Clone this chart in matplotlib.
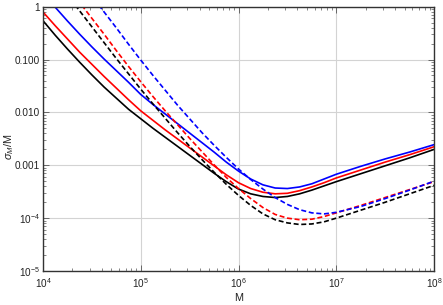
import matplotlib
matplotlib.use("Agg")
import matplotlib.pyplot as plt
import numpy as np
from matplotlib.ticker import FixedLocator, LogLocator, NullFormatter

# log10(M) sample grid
log_mass = [4.0, 4.125, 4.25, 4.375, 4.5, 4.625, 4.75, 4.875, 5.0, 5.125, 5.25,
            5.375, 5.5, 5.625, 5.75, 5.875, 6.0, 6.125, 6.25, 6.375, 6.5, 6.625,
            6.75, 6.875, 7.0, 7.25, 7.5, 7.75, 8.0]

# log10(sigma_M / M)
black_solid = [-0.265, -0.54, -0.80, -1.05, -1.29, -1.52, -1.73, -1.94, -2.12, -2.30,
               -2.47, -2.64, -2.81, -2.98, -3.15, -3.31, -3.45, -3.54, -3.59, -3.61,
               -3.59, -3.54, -3.47, -3.39, -3.31, -3.16, -3.01, -2.86, -2.70]
red_solid = [-0.10, -0.36, -0.61, -0.86, -1.09, -1.32, -1.54, -1.76, -1.97, -2.15,
             -2.33, -2.50, -2.67, -2.84, -3.01, -3.18, -3.33, -3.44, -3.51, -3.54,
             -3.53, -3.48, -3.41, -3.33, -3.24, -3.09, -2.94, -2.80, -2.65]
blue_solid = [0.25, -0.01, -0.27, -0.52, -0.76, -0.99, -1.21, -1.43, -1.66, -1.85,
              -2.03, -2.21, -2.39, -2.57, -2.75, -2.94, -3.11, -3.26, -3.37, -3.43,
              -3.44, -3.41, -3.35, -3.26, -3.17, -3.02, -2.88, -2.75, -2.61]
black_dashed = [0.82, 0.52, 0.22, -0.08, -0.38, -0.68, -0.98, -1.27, -1.56, -1.84,
                -2.11, -2.38, -2.64, -2.89, -3.13, -3.36, -3.57, -3.76, -3.92, -4.03,
                -4.09, -4.12, -4.11, -4.07, -4.00, -3.85, -3.70, -3.54, -3.38]
red_dashed = [1.0, 0.69, 0.39, 0.08, -0.22, -0.52, -0.83, -1.13, -1.42, -1.70,
              -1.97, -2.23, -2.49, -2.74, -2.99, -3.23, -3.44, -3.63, -3.80, -3.93,
              -4.00, -4.03, -4.02, -3.97, -3.90, -3.76, -3.61, -3.46, -3.31]
blue_dashed = [1.40, 1.10, 0.80, 0.50, 0.20, -0.10, -0.40, -0.71, -1.01, -1.30,
               -1.58, -1.86, -2.12, -2.38, -2.62, -2.85, -3.07, -3.27, -3.45, -3.61,
               -3.74, -3.84, -3.90, -3.92, -3.89, -3.78, -3.63, -3.47, -3.30]

y_ticks = [1, 0.1, 0.01, 0.001, 1e-4, 1e-5]
y_tick_labels = ["1", "0.100", "0.010", "0.001", r"$10^{-4}$", r"$10^{-5}$"]
x_ticks = [1e4, 1e5, 1e6, 1e7, 1e8]
x_tick_labels = [r"$10^{4}$", r"$10^{5}$", r"$10^{6}$", r"$10^{7}$", r"$10^{8}$"]

plt.rcParams['font.family'] = ['Liberation Sans', 'DejaVu Sans']
plt.rcParams['mathtext.fontset'] = 'custom'
plt.rcParams['mathtext.rm'] = 'Liberation Sans'
plt.rcParams['mathtext.it'] = 'Liberation Sans:italic'

fig = plt.figure(figsize=(4.43, 3.05), dpi=100)
ax = fig.add_axes([43/443, 34/305, (434-43)/443, (271-6.7)/305])

M = 10 ** np.array(log_mass)
dash = (0, (3.0, 1.6))
series = [
    (black_solid, 'black', '-'),
    (red_solid, 'red', '-'),
    (blue_solid, 'blue', '-'),
    (black_dashed, 'black', dash),
    (red_dashed, 'red', dash),
    (blue_dashed, 'blue', dash),
]
for vals, c, ls in series:
    ax.plot(M, 10 ** np.array(vals), color=c, linestyle=ls, lw=1.2)

ax.set_xscale('log')
ax.set_yscale('log')
ax.set_xlim(1e4, 1e8)
ax.set_ylim(1e-5, 1)

ax.xaxis.set_major_locator(FixedLocator(x_ticks))
ax.set_xticklabels(x_tick_labels)
ax.yaxis.set_major_locator(FixedLocator(y_ticks))
ax.set_yticklabels(y_tick_labels)
ax.xaxis.set_minor_locator(LogLocator(base=10, subs=np.arange(2, 10), numticks=20))
ax.yaxis.set_minor_locator(LogLocator(base=10, subs=np.arange(2, 10), numticks=20))
ax.xaxis.set_minor_formatter(NullFormatter())
ax.yaxis.set_minor_formatter(NullFormatter())

ax.grid(True, which='major', color='#d3d3d3', lw=0.8)
ax.set_axisbelow(True)
ax.tick_params(which='both', direction='in', top=True, right=True,
               labelsize=7.2, colors='#555555', labelcolor='#222222')
ax.tick_params(axis='x', which='major', pad=3.5)
ax.tick_params(axis='y', which='major', pad=2)
ax.tick_params(which='major', length=4, width=0.6)
ax.tick_params(which='minor', length=2, width=0.5)
for s in ax.spines.values():
    s.set_color('#333333')
    s.set_linewidth(1.0)

ax.set_xlabel('M', fontsize=7.8, color='#222222')
ax.xaxis.set_label_coords(0.5, -0.085)
ax.set_ylabel(r'$\sigma_{M}$/M', fontsize=7.8, color='#222222')
ax.yaxis.set_label_coords(-0.07, 0.47)

fig.savefig('out.png', dpi=100)
